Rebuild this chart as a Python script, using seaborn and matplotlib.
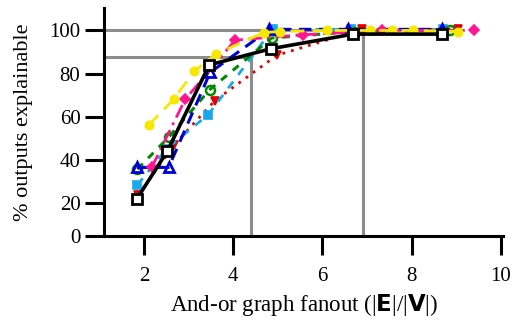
import matplotlib
matplotlib.use("Agg")
import matplotlib.pyplot as plt
import seaborn as sns
import pandas as pd

sns.set_theme(style="white")
plt.rcParams['font.family'] = ['Liberation Serif', 'DejaVu Serif']
plt.rcParams['mathtext.fontset'] = 'custom'
plt.rcParams['mathtext.bf'] = 'DejaVu Sans:bold'
plt.rcParams['mathtext.rm'] = 'Liberation Serif'

# ---- data ----
black_x = [1.84, 2.52, 3.46, 4.84, 6.69, 8.68]
black_y = [22, 44, 84, 91.5, 98.3, 98.3]

yellow_x = [2.10, 2.66, 3.12, 3.61, 4.68, 5.05, 6.10, 7.07, 7.55, 8.03, 9.05]
yellow_y = [56, 68, 81, 89, 99, 99.5, 100, 100, 100, 100, 99.5]

magenta_x = [2.17, 2.92, 4.04, 5.57, 7.33, 9.39]
magenta_y = [36.5, 68, 95.5, 98, 100, 100]

blue_x = [1.84, 2.55, 3.48, 4.81, 6.58, 8.68]
blue_y = [36.5, 36.5, 80.5, 100.5, 100.5, 100.5]

green_x = [1.85, 2.55, 3.47, 4.86, 6.73, 8.86]
green_y = [35.7, 50.5, 72.5, 96.5, 99.5, 100]

cyan_x = [1.85, 2.50, 3.44, 4.88, 6.65, 8.70]
cyan_y = [28.4, 45, 61, 100.5, 100.5, 100.5]

red_x = [1.87, 2.67, 3.59, 4.98, 6.88, 9.05]
red_y = [23.7, 47, 67.5, 88.5, 100.5, 100.5]

knee_x = [4.40, 6.90]
knee_y = [87.5, 100]

x_ticks = [2, 4, 6, 8, 10]
y_ticks = [4.7, 20, 40, 60, 80, 100]
y_tick_labels = ['0', '20', '40', '60', '80', '100']

series = [
    dict(x=red_x, y=red_y, color='#e00000', ls=(0, (1, 2.2)), lw=2.0,
         marker='v', ms=6, mfc='#e00000', mec='#e00000', mew=1.2),
    dict(x=cyan_x, y=cyan_y, color='#19a8ec', ls=(0, (3, 3)), lw=2.0,
         marker='s', ms=5.5, mfc='#19a8ec', mec='#19a8ec', mew=1.2),
    dict(x=green_x, y=green_y, color='#008a00', ls=(0, (2.5, 2.5)), lw=2.2,
         marker='o', ms=6.5, mfc='none', mec='#008a00', mew=1.8),
    dict(x=blue_x, y=blue_y, color='#0000d0', ls=(0, (4, 2.5)), lw=2.2,
         marker='^', ms=7, mfc='none', mec='#0000d0', mew=2.0),
    dict(x=magenta_x, y=magenta_y, color='#ff1493', ls=(0, (5, 2, 1, 2)), lw=2.0,
         marker='D', ms=5.5, mfc='#ff1493', mec='#ff1493', mew=1.2),
    dict(x=yellow_x, y=yellow_y, color='#f6e800', ls=(0, (5, 3)), lw=2.0,
         marker='o', ms=6, mfc='#f6e800', mec='#f6e800', mew=1.2),
    dict(x=black_x, y=black_y, color='black', ls='-', lw=2.6,
         marker='s', ms=7, mfc='white', mec='black', mew=2.0),
]

fig = plt.figure(figsize=(5.14, 3.20), dpi=100)
ax = fig.add_axes([104/514, 1-236/320, (503-104)/514, (236-8)/320])

# knee reference lines (gray)
for kx, ky in zip(knee_x, knee_y):
    ax.plot([1.10, kx], [ky, ky], color='#8c8c8c', lw=2.2, zorder=1)
    ax.plot([kx, kx], [4.7, ky], color='#8c8c8c', lw=2.2, zorder=1)

for s in series:
    df = pd.DataFrame({'x': s['x'], 'y': s['y']})
    sns.lineplot(data=df, x='x', y='y', ax=ax, color=s['color'],
                 linestyle=s['ls'], linewidth=s['lw'], marker=s['marker'],
                 markersize=s['ms'], markerfacecolor=s['mfc'],
                 markeredgecolor=s['mec'], markeredgewidth=s['mew'],
                 sort=False, estimator=None, zorder=3)

ax.set_xlim(1.10, 10.05)
ax.set_ylim(4.7, 110.4)
ax.set_xticks(x_ticks)
ax.set_xticklabels([str(t) for t in x_ticks])
ax.set_yticks(y_ticks)
ax.set_yticklabels(y_tick_labels)

for side in ['top', 'right']:
    ax.spines[side].set_visible(False)
for side in ['left', 'bottom']:
    ax.spines[side].set_color('black')
    ax.spines[side].set_linewidth(2.2)

ax.tick_params(axis='both', which='major', direction='out', length=14,
               width=2.2, color='black', labelsize=15, labelcolor='black',
               bottom=True, left=True)
ax.tick_params(axis='x', pad=8)
ax.tick_params(axis='y', pad=3)

ax.set_xlabel(r'And-or graph fanout (|$\mathbf{E}$|/|$\mathbf{V}$|)',
              fontsize=16.5, color='black', labelpad=5)
ax.set_ylabel('% outputs explainable', fontsize=16, color='black', labelpad=12)
ax.grid(False)

fig.savefig('out.png', dpi=100)
